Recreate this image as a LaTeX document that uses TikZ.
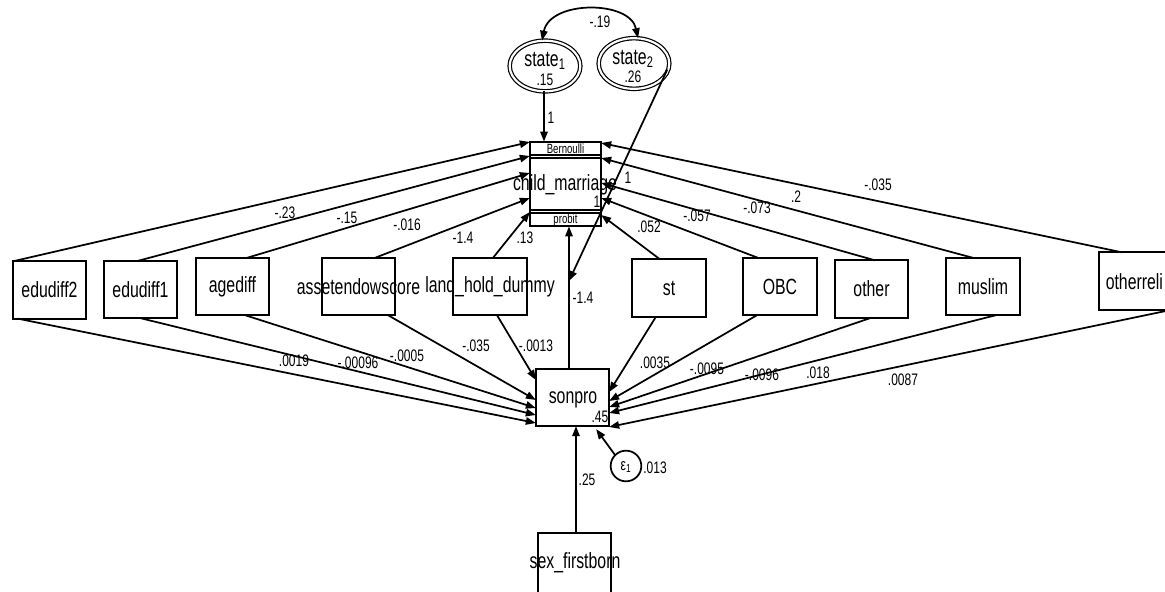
\documentclass[tikz,border=0pt]{standalone}
\usepackage{fontspec}
\setmainfont{Liberation Sans}[FakeStretch=0.72]
\usetikzlibrary{arrows.meta,calc,shapes.geometric}

\begin{document}
\begin{tikzpicture}[x=0.75pt,y=-0.75pt,
  every node/.style={inner sep=0pt, outer sep=0pt},
  box/.style={draw, line width=1.4pt, minimum width=55pt, minimum height=43pt},
  vname/.style={font=\fontsize{16.5pt}{18pt}\selectfont},
  coef/.style={font=\fontsize{12.5pt}{14pt}\selectfont},
  tiny/.style={font=\fontsize{10pt}{11pt}\selectfont},
  latent/.style={draw, ellipse, double, double distance=1.6pt, line width=0.9pt,
    minimum width=53pt, minimum height=38pt},
  errnode/.style={draw, circle, line width=1.3pt, minimum size=23pt},
  path/.style={line width=1.3pt, -{Triangle[length=7.5pt,width=5.5pt]}},
  cov/.style={line width=1.3pt, {Triangle[length=7.5pt,width=5.5pt]}-{Triangle[length=7.5pt,width=5.5pt]}},
]
\useasboundingbox[fill=white] (0,0) rectangle (1165,592);

\newcommand\obsvar[4]{%
  \node[box] (#1) at (#2,#3) {};
  \node[vname] (#1-txt) at (#1) {#4};}

% observed exogenous variables
\obsvar{edudiff2}{49.5}{290}{edudiff2}
\obsvar{edudiff1}{140.5}{289.5}{edudiff1}
\obsvar{agediff}{232.5}{286.5}{agediff}
\obsvar{asset}{358.5}{286.5}{assetendowscore}
\obsvar{land}{490}{286.5}{land\_hold\_dummy}
\obsvar{st}{669}{288}{st}
\obsvar{obc}{780}{286.5}{OBC}
\obsvar{other}{871.5}{289}{other}
\obsvar{muslim}{983}{286.5}{muslim}
\node[box] (otherreli) at (1135.5,281) {};
\node[vname, anchor=east] (otherreli-txt) at (1163,282) {otherreli};

% endogenous variables
\obsvar{sonpro}{572.5}{397.5}{}
\node[vname] (sonpro-txt) at (573,400) {sonpro};
\node[coef] (sonpro-var) at (600,417) {.45};
\node[box, minimum height=52pt] (sexfb) at (574.5,568) {};
\node[vname] (sexfb-txt) at (575,563) {sex\_firstborn};

% generalized response: child_marriage (Bernoulli, probit)
\node[draw, line width=1.4pt, minimum width=53.5pt, minimum height=63.5pt] (cm) at (565.5,184) {};
\draw[line width=1.4pt] ($(cm.north west)+(0,13)$) -- ($(cm.north east)+(0,13)$);
\draw[line width=1.4pt] ($(cm.north west)+(0,16)$) -- ($(cm.north east)+(0,16)$);
\draw[line width=1.4pt] ($(cm.south west)+(0,-16)$) -- ($(cm.south east)+(0,-16)$);
\draw[line width=1.4pt] ($(cm.south west)+(0,-13)$) -- ($(cm.south east)+(0,-13)$);
\node[tiny] (cm-fam) at (565.5,148.5) {Bernoulli};
\node[vname] (cm-txt) at (565,185) {child\_marriage};
\node[coef] (cm-one) at (597,202) {1};
\node[tiny] (cm-link) at (565.5,220.5) {probit};

% latent variables
\node[latent] (state1) at (545,66) {};
\node[vname] (state1-txt) at (545,61) {state\textsubscript{1}};
\node[coef] (state1-var) at (545,80) {.15};
\node[latent] (state2) at (634,63.5) {};
\node[vname] (state2-txt) at (633,59) {state\textsubscript{2}};
\node[coef] (state2-var) at (633,77) {.26};

% error term of sonpro
\node[errnode] (e1) at (626,466) {};
\node[coef] (e1-txt) at (626,467) {ε\textsubscript{1}};
\node[coef] (e1-var) at (655,468) {.013};

% paths into child_marriage
\draw[path] (edudiff2.north west) -- ($(cm.west)+(0,-42)$);
\draw[path] ($(edudiff1.north)+(-2.5,0)$) -- ($(cm.west)+(0,-28)$);
\draw[path] ($(agediff.north)+(14.5,0)$) -- ($(cm.west)+(0,-11)$);
\draw[path] ($(asset.north)+(16.5,0)$) -- ($(cm.west)+(0,14)$);
\draw[path] ($(land.north)+(3,0)$) -- ($(cm.west)+(0,28)$);
\draw[path] ($(st.north)+(-9,0)$) -- ($(cm.east)+(0,31)$);
\draw[path] ($(obc.north)+(-22,0)$) -- ($(cm.east)+(0,14)$);
\draw[path] ($(other.north)+(3.5,0)$) -- ($(cm.east)+(0,-1)$);
\draw[path] ($(muslim.north)+(-10,0)$) -- ($(cm.east)+(0,-26)$);
\draw[path] ($(otherreli.north)+(-13.5,0)$) -- ($(cm.east)+(0,-41)$);
\draw[path] ($(sonpro.north)+(-3.5,0)$) -- ($(cm.south)+(3.5,0)$);
\draw[path] ($(state1.south)+(-1,0)$) -- ($(cm.north)+(-21.5,0)$);

% state2 loading
\coordinate (s2end) at (569,281);
\draw[path] ($(state2.east)+(-2,6)$) -- (s2end);

% covariance of the latent variables
\draw[cov] ($(state1.north)+(-3,0)$) .. controls (550,0) and (630,0) .. ($(state2.north)+(4,0)$);

% paths into sonpro
\draw[path] ($(edudiff2.south west)+(5,0)$) -- ($(sonpro.west)+(0,25.5)$);
\draw[path] (edudiff1.south) -- ($(sonpro.west)+(0,17.5)$);
\draw[path] ($(agediff.south)+(12.5,0)$) -- ($(sonpro.west)+(0,10.5)$);
\draw[path] ($(asset.south)+(29.5,0)$) -- ($(sonpro.west)+(0,2.5)$);
\draw[path] ($(land.south)+(7,0)$) -- ($(sonpro.west)+(0,-17.5)$);
\draw[path] ($(st.south)+(-13,0)$) -- ($(sonpro.east)+(0,-5.5)$);
\draw[path] ($(obc.south)+(-23,0)$) -- ($(sonpro.east)+(0,3.5)$);
\draw[path] (other.south) -- ($(sonpro.east)+(0,9.5)$);
\draw[path] ($(muslim.south)+(13,0)$) -- ($(sonpro.east)+(0,15.5)$);
\draw[path] (otherreli.south east) -- ($(sonpro.east)+(0,29.5)$);
\draw[path] ($(sexfb.north)+(1.5,0)$) -- ($(sonpro.south)+(3.5,0)$);
\draw[path] (e1.135) -- ($(sonpro.south east)+(-13,3)$);

% coefficients
\node[coef] (c-cov) at (600,22) {-.19};
\node[coef] (c-s1) at (551,118) {1};
\node[coef] (c-s2) at (628,178) {1};
\node[coef] (c1) at (285,213) {-.23};
\node[coef] (c2) at (347,218) {-.15};
\node[coef] (c3) at (407,225) {-.016};
\node[coef] (c4) at (463,238) {-1.4};
\node[coef] (c5) at (525,238) {.13};
\node[coef] (c6) at (649,227) {.052};
\node[coef] (c7) at (697,216) {-.057};
\node[coef] (c8) at (757,208) {-.073};
\node[coef] (c9) at (796,197) {.2};
\node[coef] (c10) at (878,185) {-.035};
\node[coef] (c-son) at (583,298) {-1.4};
\node[coef] (d1) at (294,361) {.0019};
\node[coef] (d2) at (358,363) {-.00096};
\node[coef] (d3) at (407,356) {-.0005};
\node[coef] (d4) at (476,346) {-.035};
\node[coef] (d5) at (536,346) {-.0013};
\node[coef] (d6) at (655,363) {.0035};
\node[coef] (d7) at (707,369) {-.0095};
\node[coef] (d8) at (762,375) {-.0096};
\node[coef] (d9) at (818,373) {.018};
\node[coef] (d10) at (903,380) {.0087};
\node[coef] (c-sex) at (587,480) {.25};
\end{tikzpicture}
\end{document}
